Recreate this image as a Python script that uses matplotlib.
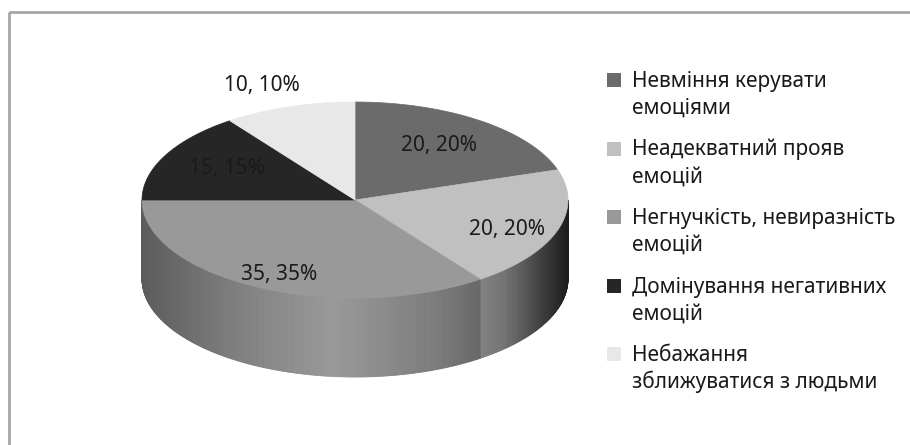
import numpy as np
import matplotlib.pyplot as plt
from matplotlib.patches import Polygon, Rectangle
from matplotlib.colors import to_rgb

plt.rcParams['font.family'] = ['Noto Sans', 'DejaVu Sans']

# data
categories = ['Невміння керувати\nемоціями',
              'Неадекватний прояв\nемоцій',
              'Негнучкість, невиразність\nемоцій',
              'Домінування негативних\nемоцій',
              'Небажання\nзближуватися з людьми']
values = [20, 20, 35, 15, 10]
colors = ['#6b6b6b', '#c0c0c0', '#999999', '#262626', '#e8e8e8']

# geometry (pixel coords)
cx, cy = 355, 200
rx, ry = 213, 98
depth = 79
lab_r = [0.70, 0.77, 0.75, 0.70, 1.30]
lab_off = [(-4, 1), (-4, 6), (-3, 9), (5, 0), (-8, 7)]


def pt(a, dy=0):
    r = np.radians(a)
    return cx + rx*np.cos(r), cy - ry*np.sin(r) + dy


def light(a):
    # brightness of the side wall vs x position
    u = np.cos(np.radians(a))
    return np.interp(u, [-1, -0.5, -0.1, 0.4, 0.7, 1.0], [0.6, 0.85, 1.0, 0.8, 0.6, 0.15])


fig = plt.figure(figsize=(9.1, 4.45), dpi=100)
ax = fig.add_axes([0, 0, 1, 1])
ax.set_xlim(0, 910)
ax.set_ylim(445, 0)
ax.axis('off')

# chart border
ax.add_patch(Rectangle((9, 12), 910, 440, fill=False, edgecolor='#a6a6a6', linewidth=2))

total = float(sum(values))
angles = [90]
for v in values:
    angles.append(angles[-1] - 360*v/total)

# side walls (front half only)
for i in range(len(values)):
    lo, hi = min(angles[i], angles[i+1]), max(angles[i], angles[i+1])
    base = np.array(to_rgb(colors[i]))
    for shift in (0, -360, 360):
        s0, s1 = max(lo + shift, -180), min(hi + shift, 0)
        if s1 <= s0:
            continue
        grid = np.linspace(s0, s1, int((s1 - s0)*2) + 2)
        for g0, g1 in zip(grid[:-1], grid[1:]):
            c = np.clip(base*light((g0 + g1)/2), 0, 1)
            quad = [pt(g0), pt(g1), pt(g1, depth), pt(g0, depth)]
            ax.add_patch(Polygon(quad, closed=True, facecolor=c, edgecolor=c, linewidth=0.6))

# top faces
for i in range(len(values)):
    arc = np.linspace(angles[i], angles[i+1], 200)
    poly = [(cx, cy)] + [pt(a) for a in arc]
    ax.add_patch(Polygon(poly, closed=True, facecolor=colors[i], edgecolor=colors[i], linewidth=0.5))

# data labels
for i, v in enumerate(values):
    mid = np.radians((angles[i] + angles[i+1])/2)
    x = cx + rx*lab_r[i]*np.cos(mid) + lab_off[i][0]
    y = cy - ry*lab_r[i]*np.sin(mid) + lab_off[i][1]
    pct = 100*v/total
    ax.text(x, y, '%d, %d%%' % (v, round(pct)), ha='center', va='center',
            fontsize=15, color='#1a1a1a')

# legend
for i, lab in enumerate(categories):
    base_y = 87 + i*68.5
    ax.add_patch(Rectangle((607, base_y - 14), 14, 14, facecolor=colors[i], edgecolor='none'))
    for k, line in enumerate(lab.split('\n')):
        ax.text(632, base_y + k*27, line, ha='left', va='baseline', fontsize=15,
                color='#1a1a1a')

fig.savefig('out.png', dpi=100)
